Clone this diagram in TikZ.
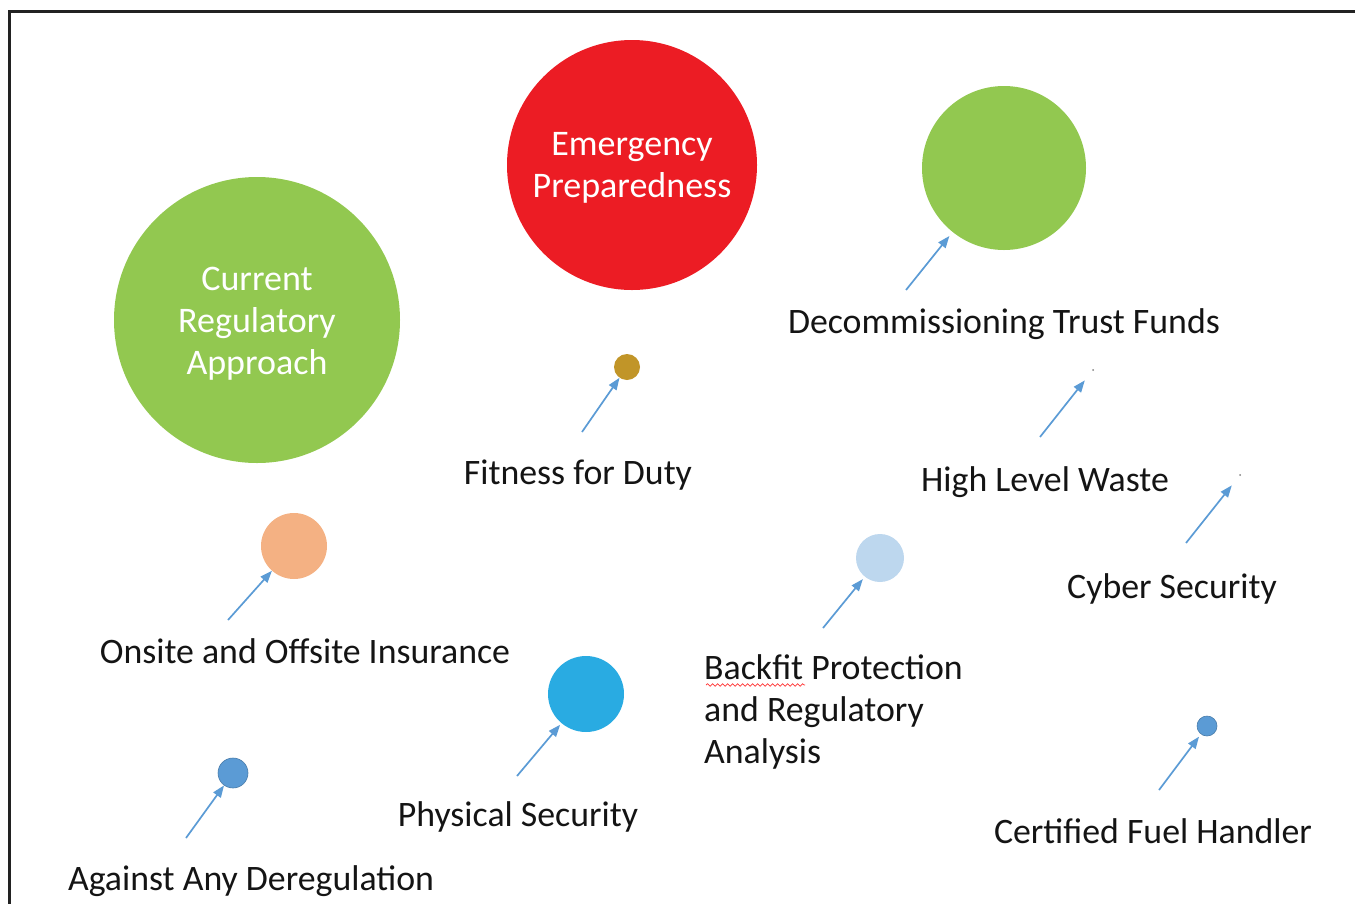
\documentclass[tikz,border=0pt]{standalone}
\usepackage{fontspec}
\setmainfont{Carlito}
\usetikzlibrary{arrows.meta,decorations.pathmorphing}

\definecolor{leafgreen}{RGB}{146,200,80}
\definecolor{alarmred}{RGB}{236,28,36}
\definecolor{ochre}{RGB}{193,149,40}
\definecolor{salmon}{RGB}{244,177,131}
\definecolor{paleblue}{RGB}{189,215,238}
\definecolor{skyblue}{RGB}{41,171,226}
\definecolor{steelblue}{RGB}{91,155,213}
\definecolor{framegray}{RGB}{34,34,34}
\definecolor{inkblack}{RGB}{20,20,20}

\begin{document}
\begin{tikzpicture}[
   x = 1pt, y = -1pt,
   bubble/.style = {circle, inner sep=0pt, text=white, align=center,
                    font=\fontsize{36}{42}\selectfont},
   topic/.style  = {text=inkblack, align=center, inner sep=0pt, yshift=-2pt,
                    font=\fontsize{35.8}{42}\selectfont},
   pointer/.style = {steelblue, line width=1.7pt,
                    -{Triangle[length=12pt, width=9pt]}},
]
   \useasboundingbox (0,0) rectangle (1355,903);
   % frame, open to the right and bottom
   \draw [framegray, line width=3pt] (9.5,11.5) rectangle (1380,930);

   % big bubbles
   \node [bubble, fill=leafgreen, minimum size=286pt] (current) at (257,320)
      {\raisebox{-4pt}[\height][\depth]{\begin{tabular}{@{}c@{}}Current\\Regulatory\\Approach\end{tabular}}};
   \node [bubble, fill=alarmred, minimum size=250pt] (emergency) at (632,165)
      {\raisebox{-3pt}[\height][\depth]{\begin{tabular}{@{}c@{}}Emergency\\Preparedness\end{tabular}}};
   \node [bubble, fill=leafgreen, minimum size=164pt] (decom) at (1004,168) {};

   % small bubbles
   \node [bubble, fill=ochre, minimum size=26pt] (fitness) at (627,367) {};
   \node [bubble, fill=salmon, minimum size=66pt] (onsite) at (294,546) {};
   \node [bubble, fill=paleblue, minimum size=48pt] (backfit) at (880,558) {};
   \node [bubble, fill=skyblue, minimum size=76pt] (physical) at (586,694) {};
   \node [bubble, fill=steelblue, minimum size=30pt, draw=steelblue!80!black,
      line width=0.6pt] (against) at (233,773) {};
   \node [bubble, fill=steelblue, minimum size=20pt, draw=steelblue!80!black,
      line width=0.6pt] (certified) at (1207,726) {};
   \node [bubble, fill=gray, minimum size=2pt] (waste) at (1093,370) {};
   \node [bubble, fill=gray, minimum size=2pt] (cyber) at (1240,475) {};

   % labels
   \node [topic] (decomtext) at (1004,322) {Decommissioning Trust Funds};
   \node [topic] (fitnesstext) at (578,473) {Fitness for Duty};
   \node [topic] (wastetext) at (1045,480) {High Level Waste};
   \node [topic] (cybertext) at (1172,587) {Cyber Security};
   \node [topic] (onsitetext) at (305,649) {Onsite and Offsite Insurance};
   \node [topic, align=left, anchor=west] (backfittext) at (704,710)
      {Backfit Protection\\and Regulatory\\Analysis};
   \node [topic] (physicaltext) at (518,815) {Physical Security};
   \node [topic] (certifiedtext) at (1153,829) {Certified Fuel Handler};
   \node [topic] (againsttext) at (251,879) {Against Any Deregulation};

   % spell-check squiggle
   \draw [red!80, line width=0.7pt, decorate,
      decoration={snake, amplitude=1.3pt, segment length=5pt}]
      (706,685) -- (805,685);

   % arrow tails
   \coordinate (decomtail) at (906,290);
   \coordinate (fitnesstail) at (582,432);
   \coordinate (wastetail) at (1040,437);
   \coordinate (cybertail) at (1186,543);
   \coordinate (onsitetail) at (228,620);
   \coordinate (backfittail) at (823,628);
   \coordinate (physicaltail) at (517,776);
   \coordinate (againsttail) at (186,838);
   \coordinate (certifiedtail) at (1159,790);

   % arrows
   \draw [pointer, shorten >=5pt] (decomtail) -- (decom);
   \draw [pointer] (fitnesstail) -- (fitness);
   \draw [pointer, shorten >=12pt] (wastetail) -- (waste);
   \draw [pointer, shorten >=12pt] (cybertail) -- (cyber);
   \draw [pointer] (onsitetail) -- (onsite);
   \draw [pointer, shorten >=3pt] (backfittail) -- (backfit);
   \draw [pointer, shorten >=2pt] (physicaltail) -- (physical);
   \draw [pointer] (againsttail) -- (against);
   \draw [pointer, shorten >=3pt] (certifiedtail) -- (certified);
\end{tikzpicture}
\end{document}
